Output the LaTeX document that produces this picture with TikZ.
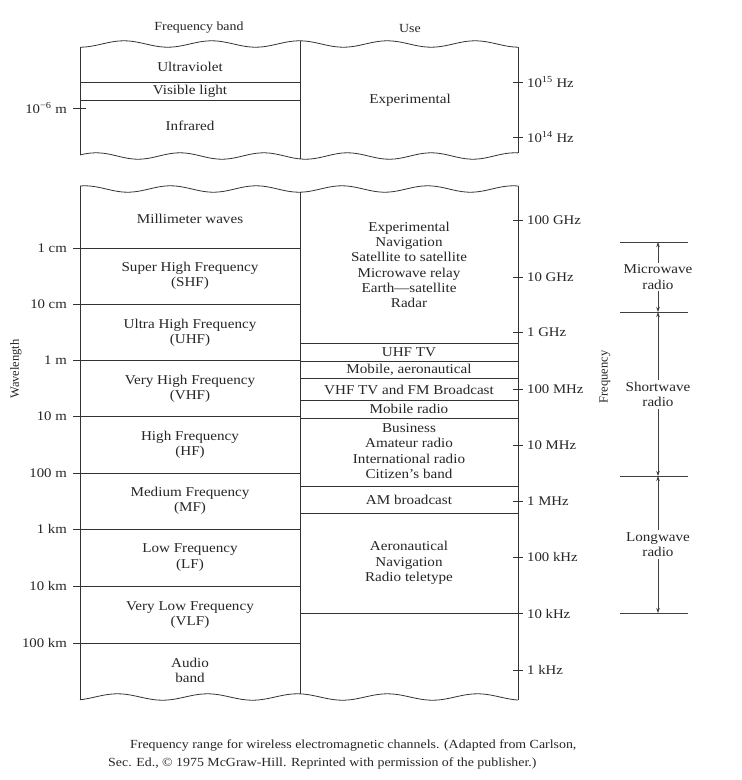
\documentclass[tikz,border=0pt]{standalone}
\usepackage{fontspec}
\setmainfont{Liberation Serif}
\newfontfamily\bodyfont{Liberation Serif}[FakeStretch=1.12]
\usetikzlibrary{arrows.meta}
\begin{document}
\begin{tikzpicture}[x=1pt,y=-1pt,
  txt/.style={inner sep=0pt, align=center, font=\bodyfont\fontsize{13.5}{15.3}\selectfont, text=black!85},
  lbl/.style={inner sep=0pt, font=\bodyfont\fontsize{13.2}{14}\selectfont, text=black!85},
  captxt/.style={inner sep=0pt, font=\bodyfont\fontsize{12.4}{14}\selectfont, text=black!85},
  rottxt/.style={inner sep=0pt, rotate=90, font=\fontsize{12.5}{14}\selectfont, text=black!85},
  ln/.style={line width=0.8pt, black!80},
  brk/.style={line width=0.7pt, black!75},
  arr/.style={brk, -{Stealth[length=5pt,width=3.5pt]}}]
\useasboundingbox[fill=white] (0,0) rectangle (742,780);

% ---------- headers
\node[captxt] (hband) at (199,28) {Frequency band};
\node[captxt] (huse) at (410,28) {Use};

% ---------- top box (optical)
\draw[ln] plot[domain=80:518,samples=150,smooth] (\x,{44+3.2*sin((\x-80)*4.1+90)});
\draw[ln] plot[domain=80:518,samples=150,smooth] (\x,{156+3.2*sin((\x-80)*4.3+200)});
\coordinate (tl) at (80,{44+3.2*sin(90)});
\coordinate (bl) at (80,{156+3.2*sin(200)});
\draw[ln] (tl) -- (bl);
\draw[ln] (300,{44+3.2*sin(220*4.1+90)}) -- (300,{156+3.2*sin(220*4.3+200)});
\draw[ln] (518,{44+3.2*sin(438*4.1+90)}) -- (518,{156+3.2*sin(438*4.3+200)});
\coordinate (uv1) at (80,82);  \coordinate (uv2) at (300,82);
\coordinate (vi1) at (80,100); \coordinate (vi2) at (300,100);
\draw[ln] (uv1) -- (uv2);
\draw[ln] (vi1) -- (vi2);
\node[txt] (uv) at (190,67) {Ultraviolet};
\node[txt] (vis) at (190,91) {Visible light};
\node[txt] (ir) at (190,126) {Infrared};
\node[txt] (exp0) at (410,100) {Experimental};
% ticks top box
\draw[ln] (73,108) -- (86,108);
\node[lbl,anchor=east] (w6) at (67,108) {10\textsuperscript{−6} m};
\draw[ln] (513,82) -- (523,82);
\node[lbl,anchor=west] (f15) at (527,82) {10\textsuperscript{15} Hz};
\draw[ln] (513,137) -- (523,137);
\node[lbl,anchor=west] (f14) at (527,137) {10\textsuperscript{14} Hz};

% ---------- lower box
\draw[ln] plot[domain=80:518,samples=150,smooth] (\x,{189+3.2*sin((\x-80)*4.2+250)});
\draw[ln] plot[domain=80:518,samples=150,smooth] (\x,{697+3.2*sin((\x-80)*4.0+120)});
\draw[ln] (80,{189+3.2*sin(250)}) -- (80,{697+3.2*sin(120)});
\draw[ln] (300,{189+3.2*sin(220*4.2+250)}) -- (300,{697+3.2*sin(220*4.0+120)});
\draw[ln] (518,{189+3.2*sin(438*4.2+250)}) -- (518,{697+3.2*sin(438*4.0+120)});

% wavelength lines (left column) with ticks and labels
\foreach \yy/\tt in {248/1 cm,304/10 cm,360/1 m,416/10 m,473/100 m,529/1 km,586/10 km,643/100 km}{
  \draw[ln] (73,\yy) -- (300,\yy);
  \node[lbl,anchor=east] at (67,\yy) {\tt};
}

% use-column lines
\foreach \yy in {343,361,378,400,418,486,513}{
  \draw[ln] (300,\yy) -- (518,\yy);
}
\draw[ln] (300,613) -- (523,613);

% frequency ticks and labels
\foreach \yy/\tt in {220/100 GHz,277/10 GHz,332/1 GHz,389/100 MHz,445/10 MHz,501/1 MHz,557/100 kHz,670/1 kHz}{
  \draw[ln] (513,\yy) -- (523,\yy);
  \node[lbl,anchor=west] at (527,\yy) {\tt};
}
\node[lbl,anchor=west] (f10k) at (527,614) {10 kHz};

% band names
\node[txt] (mm) at (190,219) {Millimeter waves};
\node[txt] (shf) at (190,275.5) {Super High Frequency\\(SHF)};
\node[txt] (uhf) at (190,332.5) {Ultra High Frequency\\(UHF)};
\node[txt] (vhf) at (190,388.5) {Very High Frequency\\(VHF)};
\node[txt] (hf) at (190,444.5) {High Frequency\\(HF)};
\node[txt] (mf) at (190,500.5) {Medium Frequency\\(MF)};
\node[txt] (lf) at (190,557.5) {Low Frequency\\(LF)};
\node[txt] (vlf) at (190,615) {Very Low Frequency\\(VLF)};
\node[txt] (aud) at (190,670.5) {Audio\\band};

% uses
\node[txt] (exp) at (409,265) {Experimental\\Navigation\\Satellite to satellite\\Microwave relay\\Earth—satellite\\Radar};
\node[txt] (uhftv) at (409,352) {UHF TV};
\node[txt] (mob) at (409,370) {Mobile, aeronautical};
\node[txt] (vhftv) at (409,389.5) {VHF TV and FM Broadcast};
\node[txt] (mobr) at (409,409) {Mobile radio};
\node[txt] (bus) at (409,451) {Business\\Amateur radio\\International radio\\Citizen’s band};
\node[txt] (am) at (409,500) {AM broadcast};
\node[txt] (aer) at (409,563) {Aeronautical\\Navigation\\Radio teletype};

% axis titles
\node[rottxt] (wl) at (16,369) {Wavelength};
\node[rottxt] (fq) at (605,377) {Frequency};

% ---------- radio brackets
\foreach \yy in {242,312,476,613}{
  \draw[brk] (620,\yy) -- (688,\yy);
}
\coordinate (b1) at (658,242);
\coordinate (b2) at (658,312);
\coordinate (b3) at (658,476);
\coordinate (b4) at (658,613);
\node[txt] (mw) at (658,277) {Microwave\\radio};
\node[txt] (sw) at (658,394.5) {Shortwave\\radio};
\node[txt] (lw) at (658,544.5) {Longwave\\radio};
\draw[arr] (mw.north) ++(0,-2) -- (b1);
\draw[arr] (mw.south) ++(0,2) -- (b2);
\draw[arr] (sw.north) ++(0,-2) -- (b2);
\draw[arr] (sw.south) ++(0,2) -- (b3);
\draw[arr] (lw.north) ++(0,-2) -- (b3);
\draw[arr] (lw.south) ++(0,2) -- (b4);

% ---------- caption
\node[captxt,anchor=west] (cap1) at (130,745) {Frequency range for wireless electromagnetic channels. (Adapted from Carlson,};
\node[captxt,anchor=west] (cap2) at (108,763) {Sec. Ed., © 1975 McGraw-Hill. Reprinted with permission of the publisher.)};
\end{tikzpicture}
\end{document}
